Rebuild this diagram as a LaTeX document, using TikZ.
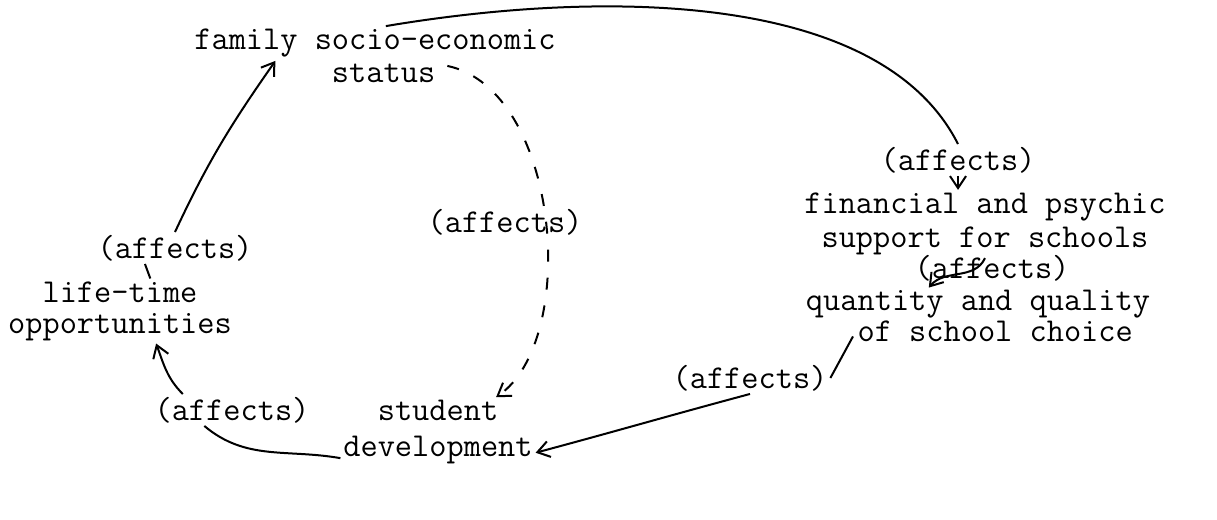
\documentclass[tikz,border=0pt]{standalone}
\usepackage{fontspec}
\usetikzlibrary{arrows.meta,calc}
\begin{document}
\begin{tikzpicture}[x=.5pt,y=.5pt,line width=1pt,
	font=\fontsize{16.7}{14}\selectfont\ttfamily,
	every node/.style={inner sep=1pt},
	arr/.style={-{Straight Barb[length=6pt,width=8pt]}},
	dsh/.style={dash pattern=on 6pt off 8pt}]
	\useasboundingbox (0,0) rectangle (1217,520);
	\node[align=left] (fses) at (375,464) {family socio-economic\\[2.5pt]\hphantom{family s}status};
	\node[align=center] (fin) at (985,296) {financial and psychic\\[2pt]support for schools};
	\node[align=left] (qty) at (978,204) {quantity and quality\\\hphantom{qua}of school choice};
	\node[align=center] (dev) at (438,88) {student\\[4pt]development};
	\node[align=center] (life) at (120,209) {life-time\\[1.5pt]opportunities};
	\foreach \n/\x/\y in {affTR/958/360,affR/992/252,affBR/750/142,affBL/232/110,affL/175/272,affM/505/298}
		\node (\n) at (\x,\y) {(affects)};
	\draw (fses.70) .. controls (600,530) and (880,530) .. (affTR.north);%上方曲线
	\draw[arr] (affTR.south) -- (affTR.south |- fin.north);
	\draw[arr] (fin.south) to[out=-115,in=50] (qty.150);
	\draw ($(qty.south west)+(50,8)$) -- (affBR.east);
	\draw[arr] (affBR.south) to[out=-165,in=15] (dev.-12);
	\draw (dev.195) to[out=170,in=-40] (affBL.-150);
	\draw[arr] (affBL.162) to[out=135,in=-70] (life.-42);
	\draw (life.47) -- (affL.-152);
	\draw[arr] (affL.north) to[out=65,in=-125] ($(fses.south west)+(84,25)$);
	\draw[dsh,arr] ($(fses.south west)+(256,20)$) .. controls (560,430) and (580,180) .. (dev.31);%虚线
\end{tikzpicture}
\end{document}
